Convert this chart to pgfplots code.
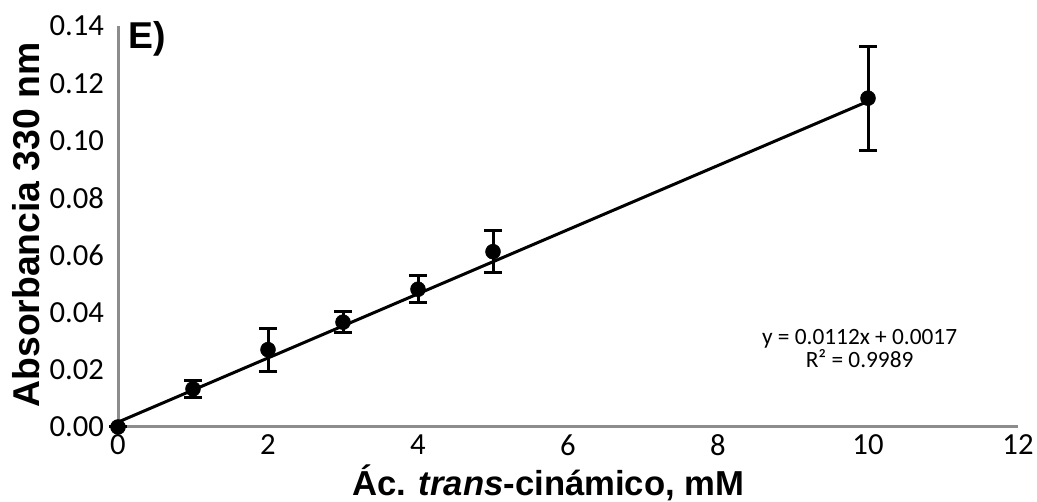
\documentclass[border=0pt]{standalone}
\usepackage{fontspec}
\setmainfont{Carlito}
\newfontfamily\arialfont{Liberation Sans}
\usepackage{pgfplots}
\pgfplotsset{compat=1.18}

\definecolor{axisgray}{HTML}{8C8C8C}

\begin{document}
\begin{tikzpicture}[x=0.75pt,y=0.75pt]
\useasboundingbox (0,0) rectangle (1037,502);
\begin{axis}[
  at={(88.5pt,56.25pt)}, anchor=south west,
  scale only axis,
  width=675pt, height=300.75pt,
  xmin=0, xmax=12, ymin=0, ymax=0.14,
  xtick={0,2,...,12},
  ytick={0,0.02,...,0.14},
  axis lines=left,
  axis line style={axisgray, line width=2.25pt, -},
  major tick length=0pt,
  clip=false,
  /pgf/number format/assume math mode=true,
  y tick label style={/pgf/number format/fixed, /pgf/number format/fixed zerofill,
    /pgf/number format/precision=2},
  tick label style={font=\fontsize{23}{25}\selectfont},
  yticklabel style={xshift=-7pt},
  xticklabel style={yshift=-2pt},
  scaled y ticks=false,
  xlabel={\arialfont\bfseries Ác. \textit{trans}-cinámico, mM},
  xlabel style={font=\fontsize{26}{30}\selectfont, at={(axis description cs:0.478,-0.14)}, anchor=center},
  ylabel={\arialfont\bfseries Absorbancia 330 nm},
  ylabel style={font=\fontsize{28}{30}\selectfont, at={(axis description cs:-0.102,0.504)}, anchor=center, rotate=0},
]
% linear fit: y = 0.0112x + 0.0017
\addplot[black, line width=2.25pt] coordinates {(0,0.0017) (10,0.1137)};

% measured means with standard deviations
\addplot[only marks, mark=*, mark size=5.6pt, black,
  error bars/.cd, y dir=both, y explicit,
  error bar style={black, line width=2.25pt},
  error mark=-, error mark options={black, line width=2.25pt, mark size=6.75pt, rotate=90}]
  coordinates {
    (0,0)        +- (0,0)
    (1,0.0133)   +- (0,0.0031)
    (2,0.0270)   +- (0,0.0075)
    (3,0.0366)   +- (0,0.0037)
    (4,0.0481)   +- (0,0.0047)
    (5,0.0612)   +- (0,0.0074)
    (10,0.1148)  +- (0,0.0182)
  };

\node[font=\arialfont\bfseries\fontsize{28}{30}\selectfont, anchor=west]
  at (axis description cs:0.006,0.967) {E)};
\node[font=\fontsize{17.5}{17.5}\selectfont, align=center]
  at (axis description cs:0.824,0.195) {y = 0.0112x + 0.0017\\R² = 0.9989};
\end{axis}
\end{tikzpicture}
\end{document}
